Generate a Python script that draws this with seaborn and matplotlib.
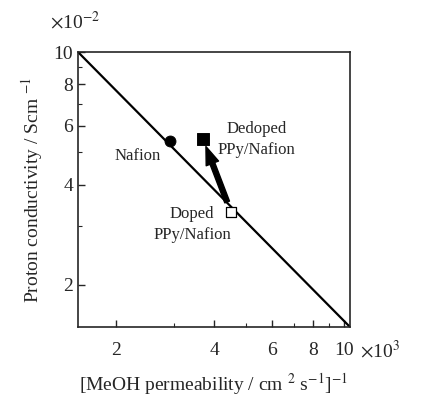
import matplotlib
matplotlib.use("Agg")
import matplotlib.pyplot as plt
import seaborn as sns
import pandas as pd

# values (x in 10^3 cm^-2 s, y in 10^-2 S cm^-1)
line_x = [1.53, 10.4]
line_y = [10.0, 1.494]
samples = ["Nafion", "Dedoped PPy/Nafion", "Doped PPy/Nafion"]
perm_inv = [2.93, 3.69, 4.50]
conductivity = [5.39, 5.49, 3.30]
x_ticks = [2, 4, 6, 8, 10]
y_ticks = [2, 4, 6, 8, 10]

sns.set_style("ticks")
plt.rcParams["font.family"] = ["Liberation Serif", "DejaVu Serif"]
plt.rcParams["mathtext.fontset"] = "stix"

fig = plt.figure(figsize=(4.28, 3.97), dpi=100)
ax = fig.add_axes([0.1822, 0.1763, 0.6356, 0.6927])

df_line = pd.DataFrame({"x": line_x, "y": line_y})
sns.lineplot(data=df_line, x="x", y="y", ax=ax, color="black", lw=1.6)

df = pd.DataFrame({"sample": samples, "x": perm_inv, "y": conductivity})
sns.scatterplot(data=df.iloc[[0]], x="x", y="y", ax=ax, marker="o", s=62,
                color="black", edgecolor="black", zorder=5)
sns.scatterplot(data=df.iloc[[1]], x="x", y="y", ax=ax, marker="s", s=68,
                color="black", edgecolor="black", zorder=5)
sns.scatterplot(data=df.iloc[[2]], x="x", y="y", ax=ax, marker="s", s=48,
                facecolor="white", edgecolor="black", linewidth=0.9, zorder=5)

# arrow from doped to dedoped
ax.annotate("", xy=(perm_inv[1], conductivity[1]), xytext=(perm_inv[2], conductivity[2]),
            arrowprops=dict(arrowstyle="simple,head_length=1.3,head_width=0.95,tail_width=0.36",
                            mutation_scale=10, facecolor="black", edgecolor="black",
                            shrinkA=8, shrinkB=6),
            annotation_clip=False)

ax.set_xscale("log")
ax.set_yscale("log")

ax.set_xticks(x_ticks)
ax.set_xticklabels([str(t) for t in x_ticks])
ax.set_yticks(y_ticks)
ax.set_yticklabels([str(t) for t in y_ticks])
ax.set_xticks([3, 5, 7, 9], minor=True)
ax.set_yticks([3, 5, 7, 9], minor=True)
ax.xaxis.set_minor_formatter(plt.NullFormatter())
ax.yaxis.set_minor_formatter(plt.NullFormatter())
ax.tick_params(which="major", direction="in", length=5, width=1, labelsize=14,
               top=False, right=False)
ax.tick_params(axis="x", which="major", pad=10.5)
ax.tick_params(which="minor", direction="in", length=3, width=0.8,
               top=False, right=False)
for s in ax.spines.values():
    s.set_linewidth(1.2)

ax.set_xlabel(r"[MeOH permeability / cm $^{2}$ s$^{-1}$]$^{-1}$", fontsize=14, labelpad=9)
ax.set_ylabel(r"Proton conductivity / Scm $^{-1}$", fontsize=14, labelpad=6)

ax.text(0.08, 1.11, r"$\times$10$^{-2}$", transform=ax.transAxes, fontsize=14,
        ha="right", va="center")
ax.text(1.035, -0.085, r"$\times$10$^{3}$", transform=ax.transAxes, fontsize=14,
        ha="left", va="center")

ax.text(2.33, 4.86, "Nafion", fontsize=12, ha="center", va="center")
ax.text(5.38, 5.45, "Dedoped\nPPy/Nafion", fontsize=12, ha="center", va="center",
        linespacing=1.4)
ax.text(3.42, 3.04, "Doped\nPPy/Nafion", fontsize=12, ha="center", va="center",
        linespacing=1.4)

ax.set_xlim(1.53, 10.4)
ax.set_ylim(1.494, 10)
fig.savefig("out.png", dpi=100)
